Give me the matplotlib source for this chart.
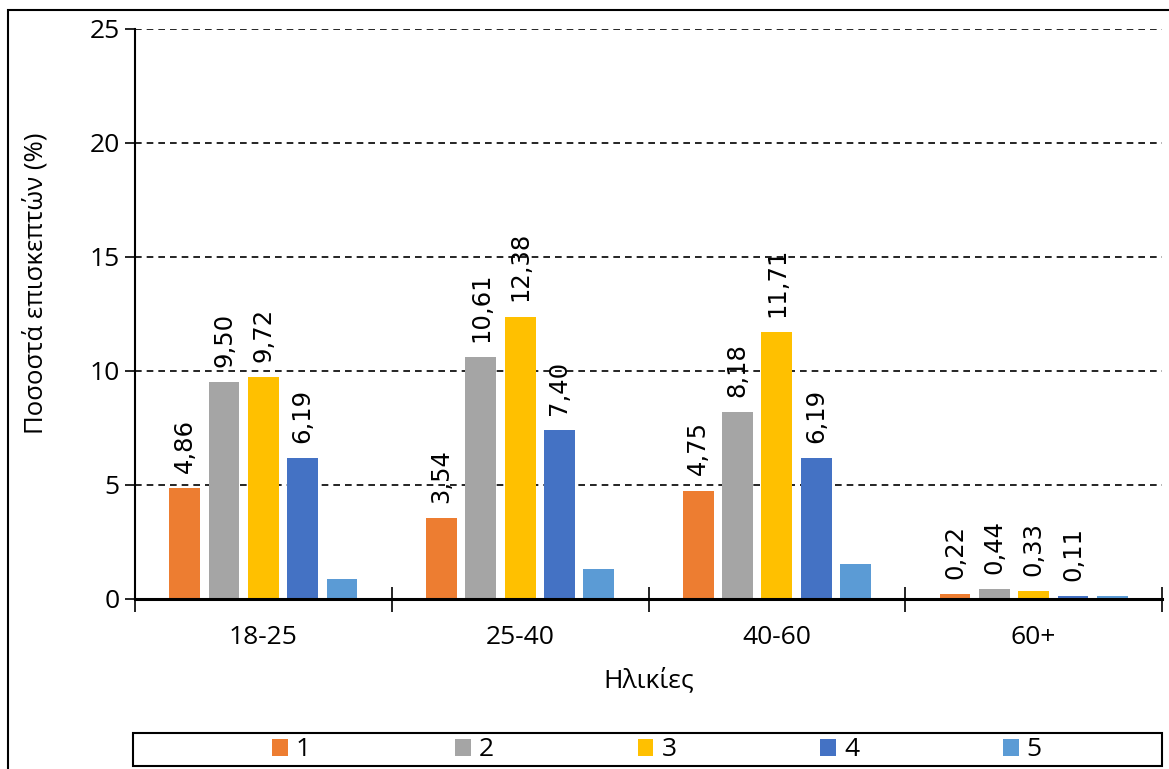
import matplotlib.pyplot as plt
import numpy as np
from matplotlib.patches import Rectangle

# Δεδομένα
ilikies = ['18-25', '25-40', '40-60', '60+']
seires = ['1', '2', '3', '4', '5']
s1 = [4.86, 3.54, 4.75, 0.22]
s2 = [9.50, 10.61, 8.18, 0.44]
s3 = [9.72, 12.38, 11.71, 0.33]
s4 = [6.19, 7.40, 6.19, 0.11]
s5 = [0.88, 1.33, 1.55, 0.11]
times = [s1, s2, s3, s4, s5]
xromata = ['#ED7D31', '#A5A5A5', '#FFC000', '#4472C4', '#5B9BD5']
me_etiketa = [True, True, True, True, False]

plt.rcParams['font.family'] = ['Open Sans', 'DejaVu Sans']

fig = plt.figure(figsize=(11.69, 7.69), dpi=100)
ax = fig.add_axes([135/1169, 1-599/769, (1162-135)/1169, (599-29)/769])

x = np.arange(len(ilikies))
platos = 0.12
vima = 0.153
for i, (vals, c) in enumerate(zip(times, xromata)):
    pos = x + (i - 2) * vima
    ax.bar(pos, vals, width=platos, color=c, label=seires[i], zorder=3)
    if me_etiketa[i]:
        for px, v in zip(pos, vals):
            ax.annotate(f'{v:.2f}'.replace('.', ','), (px, v), xytext=(0, 11),
                        textcoords='offset points', rotation=90,
                        ha='center', va='bottom', fontsize=17.5,
                        family='DejaVu Sans', zorder=4)

ax.set_xlim(-0.5, 3.5)
ax.set_ylim(0, 25)
ax.set_yticks([0, 5, 10, 15, 20, 25])
ax.yaxis.grid(True, linestyle=(0, (4, 3)), color='black', linewidth=1.2, zorder=0)
ax.set_xticks(x)
ax.set_xticklabels(ilikies, fontsize=19)
ax.tick_params(axis='x', length=0, pad=19)
ax.set_xticks(np.arange(-0.5, 4, 1), minor=True)
ax.tick_params(axis='x', which='minor', direction='inout', length=18, width=1.2)
ax.tick_params(axis='y', labelsize=19, length=7, width=1.2, pad=4)

for s in ['top', 'right']:
    ax.spines[s].set_visible(False)
ax.spines['left'].set_linewidth(1.5)
ax.spines['bottom'].set_linewidth(2.2)
ax.spines['bottom'].set_zorder(5)

ax.set_xlabel('Ηλικίες', fontsize=19, labelpad=12)
ax.set_ylabel('Ποσοστά επισκεπτών (%)', fontsize=18.5)
ax.yaxis.set_label_coords(-0.0845, 0.554)

# υπόμνημα μέσα σε πλαίσιο όλου του πλάτους
fig.patches.append(Rectangle((133/1169, 1-766/769), (1162-133)/1169, 33/769,
                             transform=fig.transFigure, fill=False,
                             edgecolor='black', linewidth=1.5))
fig.legend(loc='center', ncol=5,
           bbox_to_anchor=(657/1169, 1-750/769),
           frameon=False, fontsize=19,
           handlelength=0.6, handleheight=0.6, handletextpad=0.3,
           columnspacing=5.45, borderpad=0)

# πλαίσιο γραφήματος
fig.patches.append(Rectangle((8/1169, -0.2), 2, 1-10/769+0.2, transform=fig.transFigure,
                             fill=False, edgecolor='black', linewidth=1.5))

fig.savefig('out.png', dpi=100)
